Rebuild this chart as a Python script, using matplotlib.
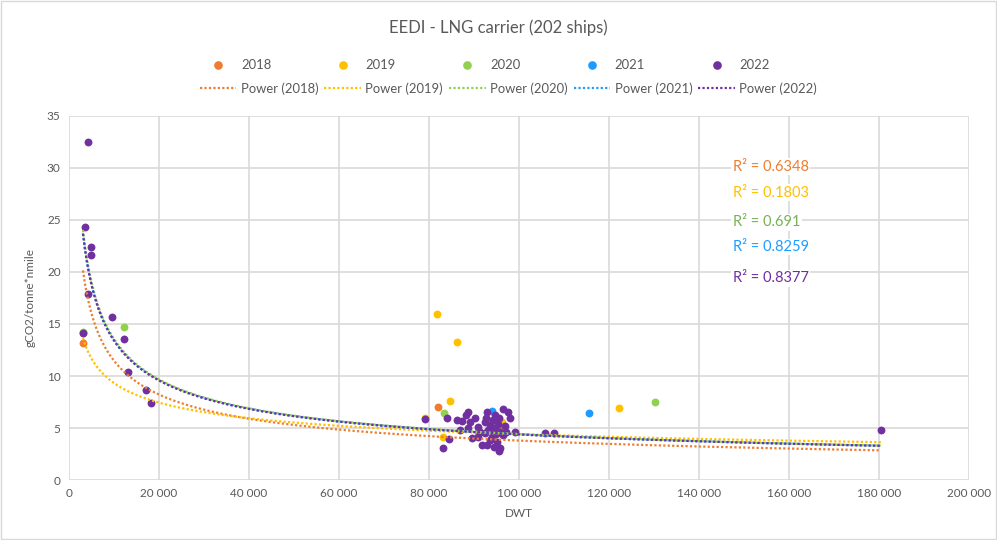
import matplotlib.pyplot as plt
import numpy as np
from matplotlib.ticker import FuncFormatter, MultipleLocator
from matplotlib.patches import Rectangle

plt.rcParams['font.family'] = ['Lato', 'DejaVu Sans']

years = ['2018', '2019', '2020', '2021', '2022']
colors = ['#ED7D31', '#FFC000', '#92D050', '#1E9BFF', '#7030A0']
r2_colors = ['#ED7D31', '#FFC000', '#77B255', '#1E9BFF', '#7030A0']
r2_values = ['0.6348', '0.1803', '0.691', '0.8259', '0.8377']

# DWT / EEDI per delivery year
dwt_2018 = [3100, 82000, 91000, 95500]
eedi_2018 = [13.2, 7.0, 4.6, 5.2]

dwt_2019 = [3100, 81800, 86200, 84700, 79100, 83100, 122200, 96200]
eedi_2019 = [14.1, 16.0, 13.3, 7.6, 6.0, 4.1, 6.9, 5.6]

dwt_2020 = [3100, 12200, 83300, 130200, 93100]
eedi_2020 = [14.2, 14.7, 6.4, 7.5, 5.8]

dwt_2021 = [115600, 94000]
eedi_2021 = [6.4, 6.6]

dwt_2022 = [4200, 3600, 4900, 4900, 4200, 9600, 12200, 3100, 13100, 17100, 18200,
            84000, 86200, 88700, 90200, 92900, 96400, 97600, 98000, 99100, 84400,
            83100, 90900, 91800, 95100, 95800, 94000, 89600, 88700, 90900, 92400,
            93600, 94700, 93100, 94200, 95300, 92400, 95800, 96900, 91300, 93600,
            94900, 94000, 96400, 92700, 94700, 89100, 86900, 95600, 92900, 94400,
            95600, 97100, 87300, 88200, 105800, 107800, 180400, 79100]
eedi_2022 = [32.5, 24.3, 22.4, 21.6, 17.9, 15.7, 13.6, 14.1, 10.4, 8.65, 7.4,
             6.0, 5.8, 6.5, 6.0, 6.5, 6.8, 6.5, 6.0, 4.6, 3.95,
             3.1, 4.1, 3.35, 3.65, 3.1, 4.1, 4.0, 5.0, 5.1, 5.6,
             5.3, 5.0, 4.8, 5.8, 5.4, 4.5, 4.6, 5.2, 4.6, 3.85,
             4.4, 5.0, 4.3, 6.0, 6.25, 5.6, 4.8, 6.0, 3.35, 3.2,
             2.8, 4.6, 5.7, 6.25, 4.5, 4.5, 4.8, 5.9]

dwt = [dwt_2018, dwt_2019, dwt_2020, dwt_2021, dwt_2022]
eedi = [eedi_2018, eedi_2019, eedi_2020, eedi_2021, eedi_2022]

# power trendline coefficients y = a * x^b
power_a = [963, 186, 1215, 1180, 1173]
power_b = [-0.481, -0.325, -0.488, -0.486, -0.4855]
trend_range = (3100, 180400)

fig = plt.figure(figsize=(9.97, 5.4), dpi=100)
ax = fig.add_axes([0.0692, 0.1111, 0.9027, 0.6741])

handles = []
for yr, c, xs, ys in zip(years, colors, dwt, eedi):
    h = ax.scatter(xs, ys, s=32, color=c, zorder=3, linewidths=0, label=yr)
    handles.append(h)

xx = np.linspace(trend_range[0], trend_range[1], 400)
lines = []
for yr, c, a, b in zip(years, colors, power_a, power_b):
    ln, = ax.plot(xx, a * xx ** b, color=c, lw=1.6, linestyle=(0, (1, 1)),
                  zorder=4, label='Power (%s)' % yr)
    lines.append(ln)

# R² labels
r2_y = [30.1, 27.6, 24.8, 22.4, 19.4]
for val, c, y in zip(r2_values, r2_colors, r2_y):
    ax.text(147500, y, 'R² = ' + val, color=c, fontsize=10.5, va='center', ha='left',
            zorder=5, bbox=dict(facecolor='white', edgecolor='none', pad=1))

ax.set_xlim(0, 200000)
ax.set_ylim(0, 35)
ax.xaxis.set_major_locator(MultipleLocator(20000))
ax.yaxis.set_major_locator(MultipleLocator(5))
ax.xaxis.set_major_formatter(FuncFormatter(lambda v, p: '0' if v == 0 else '{:,.0f}'.format(v).replace(',', ' ')))
ax.grid(True, color='#D9D9D9', lw=1.2, zorder=0)
ax.set_axisbelow(True)
for s in ax.spines.values():
    s.set_visible(False)
ax.tick_params(length=0, labelsize=8.5, labelcolor='#595959', pad=6)
ax.set_xlabel('DWT', fontsize=8.5, color='#595959', labelpad=6)
ax.set_ylabel('gCO2/tonne*nmile', fontsize=8.5, color='#595959', labelpad=8)

fig.text(0.5, 0.948, 'EEDI - LNG carrier (202 ships)', ha='center', va='center',
         fontsize=12, color='#595959')

# legend: markers on top row, trendlines below
order = []
for h, l in zip(handles, lines):
    order += [h, l]
fig.legend(handles=order, labels=[o.get_label() for o in order], ncol=5,
           loc='center', bbox_to_anchor=(0.51, 0.858), frameon=False,
           fontsize=9.4, labelcolor='#595959', handlelength=2.8, handletextpad=0.35,
           columnspacing=0.45, labelspacing=0.85, scatterpoints=1, markerscale=1.1)

fig.patches.append(Rectangle((0.001, 0.001), 0.998, 0.997, transform=fig.transFigure,
                             fill=False, edgecolor='#D9D9D9', lw=1))

fig.savefig('out.png', dpi=100)
